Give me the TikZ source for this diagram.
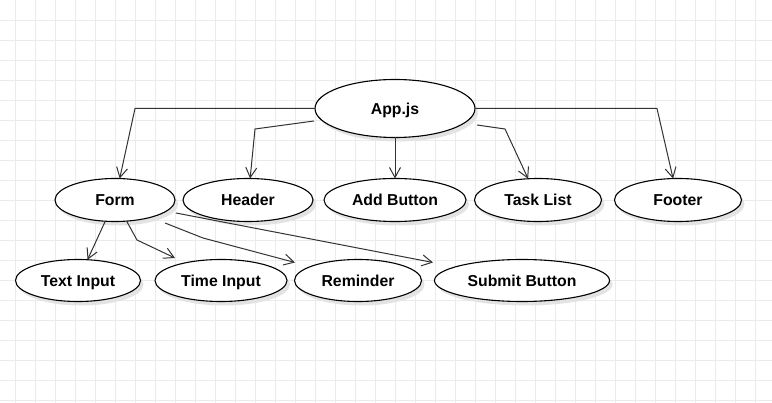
\documentclass[tikz,border=0pt]{standalone}
\usepackage{fontspec}
\setmainfont{Liberation Sans}
\usetikzlibrary{shapes.geometric, arrows.meta, shadows}

\begin{document}
\begin{tikzpicture}[x=1pt, y=-1pt, >={Straight Barb[length=10pt, width=11pt]},
  comp/.style={ellipse, draw, line width=1.1pt, fill=white, inner sep=0pt,
    outer sep=0pt, minimum height=43, text height=11.2pt, text depth=0pt,
    font=\bfseries\fontsize{15.8}{18}\selectfont,
    drop shadow={shadow xshift=3pt, shadow yshift=-4pt, fill=black!11, opacity=1}},
  link/.style={->, line width=1pt, draw=black!80},
  gridline/.style={black!8, line width=0.8pt}]

  % Background and grid
  \fill[white] (0,0) rectangle (772,403);
  \useasboundingbox (0,0) rectangle (772,403);
  \foreach \gx in {15,35,...,755}
    \draw[gridline] (\gx,0) -- (\gx,403);
  \foreach \gy in {20,40,...,400}
    \draw[gridline] (0,\gy) -- (772,\gy);

  % --- Root ---
  \node[comp, minimum width=160, minimum height=58] (app) at (395,108.5) {App.js};

  % --- Second row ---
  \node[comp, minimum width=120] (form) at (115,200) {Form};
  \node[comp, minimum width=130] (header) at (248,200) {Header};
  \node[comp, minimum width=142] (addbtn) at (395,200) {Add Button};
  \node[comp, minimum width=127] (tasklist) at (538,200) {Task List};
  \node[comp, minimum width=127] (footer) at (678,200) {Footer};

  % --- Third row ---
  \node[comp, minimum width=125, minimum height=42] (textin) at (78,280.5) {Text Input};
  \node[comp, minimum width=132, minimum height=42] (timein) at (221,280.5) {Time Input};
  \node[comp, minimum width=127, minimum height=42] (reminder) at (358,280.5) {Reminder};
  \node[comp, minimum width=175, minimum height=42] (submit) at (522,280.5) {Submit Button};

  % App.js to its children
  \draw[link] (app.west) -- (135,108.5) -- (form);
  \draw[link] ([shift={(-81,12.5)}]app.center) -- (255,129) -- (header);
  \draw[link] (app) -- (addbtn);
  \draw[link] ([shift={(82,16.5)}]app.center) -- (505,129) -- (tasklist);
  \draw[link] (app.east) -- (657,108.5) -- (footer);

  % Form to its children
  \draw[link] (form) -- (textin);
  \draw[link] (form) -- (137,240) -- ([shift={(-46,-22.5)}]timein.center);
  \draw[link] ([shift={(50,23)}]form.center) -- (203,238)
    -- ([shift={(-63,-18)}]reminder.center);
  \draw[link] ([shift={(61,13)}]form.center) -- ([shift={(-89,-18)}]submit.center);
\end{tikzpicture}
\end{document}
